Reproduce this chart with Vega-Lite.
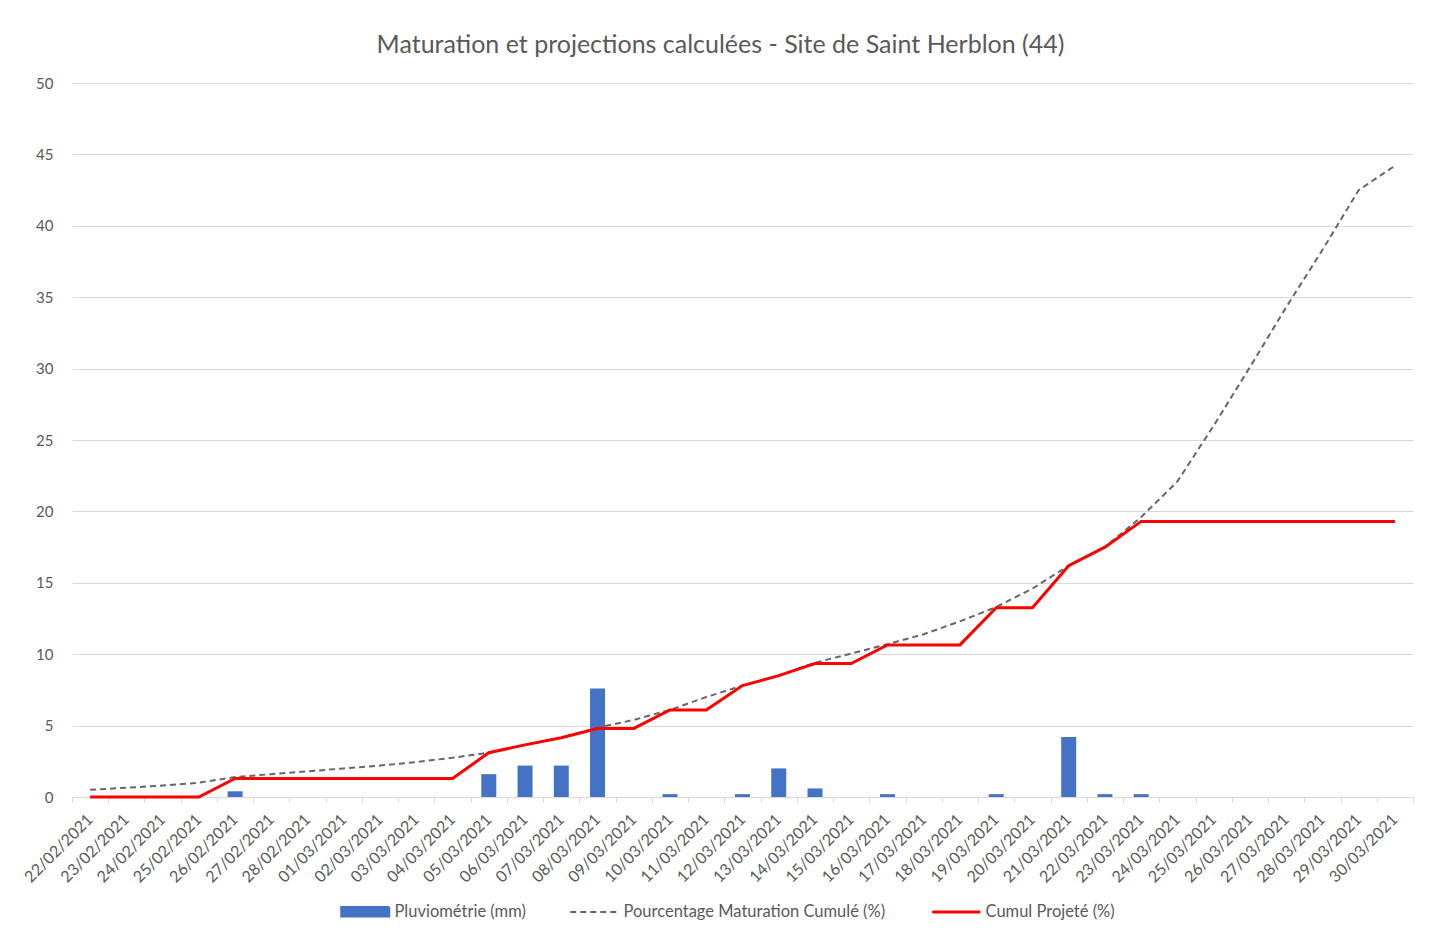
{
  "$schema": "https://vega.github.io/schema/vega-lite/v6.json",
  "autosize": {"type": "none"},
  "padding": {"left": 72, "top": 83, "right": 28, "bottom": 135},
  "width": 1341,
  "height": 714,
  "background": "#ffffff",
  "title": {
    "text": "Maturation et projections calculées - Site de Saint Herblon (44)",
    "font": "Lato",
    "fontSize": 25,
    "fontWeight": "normal",
    "color": "#595959",
    "anchor": "middle",
    "dx": -22,
    "offset": 18
  },
  "config": {
    "view": {"stroke": null},
    "font": "Lato"
  },
  "data": {
    "values": [
      {"date": "22/02/2021", "pluvio": 0, "maturation": 0.5, "projete": 0},
      {"date": "23/02/2021", "pluvio": 0, "maturation": 0.65, "projete": 0},
      {"date": "24/02/2021", "pluvio": 0, "maturation": 0.8, "projete": 0},
      {"date": "25/02/2021", "pluvio": 0, "maturation": 1.0, "projete": 0},
      {"date": "26/02/2021", "pluvio": 0.4, "maturation": 1.4, "projete": 1.3},
      {"date": "27/02/2021", "pluvio": 0, "maturation": 1.6, "projete": 1.3},
      {"date": "28/02/2021", "pluvio": 0, "maturation": 1.8, "projete": 1.3},
      {"date": "01/03/2021", "pluvio": 0, "maturation": 2.0, "projete": 1.3},
      {"date": "02/03/2021", "pluvio": 0, "maturation": 2.2, "projete": 1.3},
      {"date": "03/03/2021", "pluvio": 0, "maturation": 2.45, "projete": 1.3},
      {"date": "04/03/2021", "pluvio": 0, "maturation": 2.75, "projete": 1.3},
      {"date": "05/03/2021", "pluvio": 1.6, "maturation": 3.1, "projete": 3.1},
      {"date": "06/03/2021", "pluvio": 2.2, "maturation": 3.65, "projete": 3.65},
      {"date": "07/03/2021", "pluvio": 2.2, "maturation": 4.15, "projete": 4.15},
      {"date": "08/03/2021", "pluvio": 7.6, "maturation": 4.85, "projete": 4.8},
      {"date": "09/03/2021", "pluvio": 0, "maturation": 5.4, "projete": 4.8},
      {"date": "10/03/2021", "pluvio": 0.2, "maturation": 6.1, "projete": 6.1},
      {"date": "11/03/2021", "pluvio": 0, "maturation": 7.0, "projete": 6.1},
      {"date": "12/03/2021", "pluvio": 0.2, "maturation": 7.8, "projete": 7.8},
      {"date": "13/03/2021", "pluvio": 2.0, "maturation": 8.5, "projete": 8.5},
      {"date": "14/03/2021", "pluvio": 0.6, "maturation": 9.4, "projete": 9.35},
      {"date": "15/03/2021", "pluvio": 0, "maturation": 10.05, "projete": 9.35},
      {"date": "16/03/2021", "pluvio": 0.2, "maturation": 10.7, "projete": 10.65},
      {"date": "17/03/2021", "pluvio": 0, "maturation": 11.4, "projete": 10.65},
      {"date": "18/03/2021", "pluvio": 0, "maturation": 12.3, "projete": 10.65},
      {"date": "19/03/2021", "pluvio": 0.2, "maturation": 13.3, "projete": 13.25},
      {"date": "20/03/2021", "pluvio": 0, "maturation": 14.6, "projete": 13.25},
      {"date": "21/03/2021", "pluvio": 4.2, "maturation": 16.2, "projete": 16.2},
      {"date": "22/03/2021", "pluvio": 0.2, "maturation": 17.5, "projete": 17.5},
      {"date": "23/03/2021", "pluvio": 0.2, "maturation": 19.6, "projete": 19.3},
      {"date": "24/03/2021", "pluvio": 0, "maturation": 22.1, "projete": 19.3},
      {"date": "25/03/2021", "pluvio": 0, "maturation": 26.0, "projete": 19.3},
      {"date": "26/03/2021", "pluvio": 0, "maturation": 30.1, "projete": 19.3},
      {"date": "27/03/2021", "pluvio": 0, "maturation": 34.3, "projete": 19.3},
      {"date": "28/03/2021", "pluvio": 0, "maturation": 38.3, "projete": 19.3},
      {"date": "29/03/2021", "pluvio": 0, "maturation": 42.5, "projete": 19.3},
      {"date": "30/03/2021", "pluvio": 0, "maturation": 44.2, "projete": 19.3}
    ]
  },
  "encoding": {
    "x": {
      "field": "date",
      "type": "ordinal",
      "sort": null,
      "title": null,
      "scale": {"paddingInner": 0, "paddingOuter": 0},
      "axis": {
        "labelAngle": -45,
        "labelFont": "Lato",
        "labelFontSize": 16,
        "labelColor": "#595959",
        "labelPadding": 9,
        "labelOffset": -6,
        "domainColor": "#d9d9d9",
        "domainWidth": 1,
        "tickColor": "#d9d9d9",
        "tickSize": 5,
        "tickBand": "extent",
        "grid": false
      }
    }
  },
  "layer": [
    {
      "mark": {"type": "bar", "size": 15},
      "encoding": {
        "y": {
          "field": "pluvio",
          "type": "quantitative",
          "title": null,
          "scale": {"domain": [0, 50], "nice": false},
          "axis": {
            "values": [0, 5, 10, 15, 20, 25, 30, 35, 40, 45, 50],
            "domain": false,
            "ticks": false,
            "labelFont": "Lato",
            "labelFontSize": 15,
            "labelColor": "#595959",
            "labelPadding": 19,
            "gridColor": "#d9d9d9",
            "gridWidth": 1
          }
        },
        "color": {
          "datum": "Pluviométrie (mm)",
          "type": "nominal",
          "scale": {
            "domain": ["Pluviométrie (mm)", "Pourcentage Maturation Cumulé (%)", "Cumul Projeté (%)"],
            "range": ["#4472C4", "#666666", "#FF0000"]
          },
          "legend": {
            "title": null,
            "orient": "none",
            "legendX": 285,
            "legendY": 820,
            "direction": "horizontal",
            "labelFont": "Lato",
            "labelFontSize": 16.5,
            "labelColor": "#595959",
            "labelOffset": 21,
            "labelLimit": 500,
            "columnPadding": 40,
            "symbolSize": 2304,
            "symbolType": "stroke",
            "encode": {
              "symbols": {
                "update": {
                  "shape": {"signal": "datum.value === 'Pluviométrie (mm)' ? 'M-1,-0.2H1V0.2H-1Z' : 'stroke'"},
                  "fill": {"signal": "datum.value === 'Pluviométrie (mm)' ? '#4472C4' : 'transparent'"},
                  "stroke": {"signal": "datum.value === 'Pluviométrie (mm)' ? 'transparent' : (datum.value === 'Cumul Projeté (%)' ? '#FF0000' : '#666666')"},
                  "strokeDash": {"signal": "datum.value === 'Pourcentage Maturation Cumulé (%)' ? [6, 4] : [1, 0]"},
                  "strokeWidth": {"signal": "datum.value === 'Cumul Projeté (%)' ? 3 : 2"},
                  "opacity": {"value": 1}
                }
              }
            }
          }
        }
      }
    },
    {
      "mark": {"type": "line", "strokeDash": [6, 4], "strokeWidth": 2},
      "encoding": {
        "y": {"field": "maturation", "type": "quantitative"},
        "color": {"datum": "Pourcentage Maturation Cumulé (%)", "type": "nominal"}
      }
    },
    {
      "mark": {"type": "line", "strokeWidth": 3},
      "encoding": {
        "y": {"field": "projete", "type": "quantitative"},
        "color": {"datum": "Cumul Projeté (%)", "type": "nominal"}
      }
    }
  ]
}
